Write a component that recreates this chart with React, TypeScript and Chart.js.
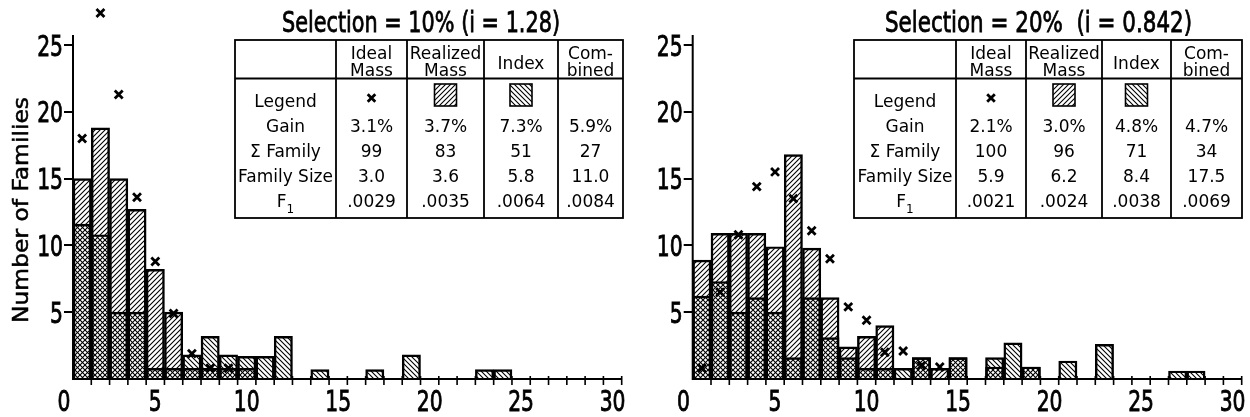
import React, { useEffect, useRef } from 'react';
import { Chart, registerables } from 'chart.js';

Chart.register(...registerables);

// ---------- data ----------
const bins = [1, 2, 3, 4, 5, 6, 7, 8, 9, 10, 11, 12, 13, 14, 15, 16, 17, 18, 19, 20, 21, 22, 23, 24, 25, 26, 27, 28, 29, 30];
const xTickLabels = [0, 5, 10, 15, 20, 25, 30];
const yAxisTop = 25.75;

// Selection = 10 %
const realized10 = [15.0, 18.8, 15.0, 12.7, 8.2, 5.0, 0.8, 0.8, 0.8, 0.8, null, null, null, null, null, null, null, null, null, null, null, null, null, null, null, null, null, null, null, null];
const index10 = [11.6, 10.8, 5.0, 5.0, 0.8, 0.8, 1.8, 3.2, 1.8, 1.7, 1.7, 3.2, null, 0.7, null, null, 0.7, null, 1.8, null, null, null, 0.7, 0.7, null, null, null, null, null, null];
const ideal10 = [18.0, 27.4, 21.3, 13.6, 8.8, 4.9, 1.9, 0.8, 0.8];

// Selection = 20 %
const realized20 = [8.9, 10.9, 10.9, 10.9, 9.9, 16.8, 9.8, 6.1, 2.4, 3.2, 4.0, null, 1.6, 0.8, 1.6, null, 0.9, null, 0.9, null, null, null, null, null, null, null, null, null, null, null];
const index20 = [6.2, 7.3, 5.0, 6.1, 5.0, 1.6, 6.1, 3.1, 1.6, 0.8, 0.8, 0.8, 1.6, null, 1.6, null, 1.6, 2.7, 0.9, null, 1.35, null, 2.6, null, null, null, 0.6, 0.6, null, null];
const ideal20 = [0.8, 6.5, 10.8, 14.4, 15.5, 13.5, 11.1, 9.0, 5.4, 4.4, 2.0, 2.1, 1.0, 0.9];

// table
const tableHeaders = [['Ideal', 'Mass'], ['Realized', 'Mass'], ['Index'], ['Com-', 'bined']];
const rowLabels = ['Legend', 'Gain', 'Σ Family', 'Family Size', 'F'];
const gain10 = ['3.1%', '3.7%', '7.3%', '5.9%'];
const sumFamily10 = ['99', '83', '51', '27'];
const familySize10 = ['3.0', '3.6', '5.8', '11.0'];
const f1_10 = ['.0029', '.0035', '.0064', '.0084'];
const gain20 = ['2.1%', '3.0%', '4.8%', '4.7%'];
const sumFamily20 = ['100', '96', '71', '34'];
const familySize20 = ['5.9', '6.2', '8.4', '17.5'];
const f1_20 = ['.0021', '.0024', '.0038', '.0069'];

const SANS = "'DejaVu Sans', sans-serif";
const TABLE_FONT = `17px ${SANS}`;
const TICK_FONT = `29px ${SANS}`;
const TICK_SX = 0.7;

type Spec = {
  realized: (number | null)[];
  index: (number | null)[];
  ideal: number[];
  title: string;
  titleCx: number;
  titleW: number;
  colEdges: number[];
  yTitle: boolean;
  yAxisWidth: number;
  padRight: number;
  rows: string[][];
};

function makeHatch(ctx: CanvasRenderingContext2D, dir: number) {
  const s = 5;
  const c = document.createElement('canvas');
  c.width = s;
  c.height = s;
  const g = c.getContext('2d')!;
  g.strokeStyle = '#000';
  g.lineWidth = 1.1;
  g.beginPath();
  if (dir === 1) {
    g.moveTo(0, s); g.lineTo(s, 0);
    g.moveTo(-1, 1); g.lineTo(1, -1);
    g.moveTo(s - 1, s + 1); g.lineTo(s + 1, s - 1);
  } else {
    g.moveTo(0, 0); g.lineTo(s, s);
    g.moveTo(-1, s - 1); g.lineTo(1, s + 1);
    g.moveTo(s - 1, -1); g.lineTo(s + 1, 1);
  }
  g.stroke();
  return ctx.createPattern(c, 'repeat')!;
}

function fitText(ctx: CanvasRenderingContext2D, text: string, cx: number, baseline: number, font: string, width: number, heavy = 0) {
  ctx.save();
  ctx.font = font;
  const w = ctx.measureText(text).width;
  ctx.translate(cx, baseline);
  ctx.scale(width / w, 1);
  ctx.textAlign = 'center';
  ctx.textBaseline = 'alphabetic';
  ctx.fillStyle = '#000';
  ctx.fillText(text, 0, 0);
  if (heavy > 0) {
    ctx.strokeStyle = '#000';
    ctx.lineWidth = heavy;
    ctx.strokeText(text, 0, 0);
  }
  ctx.restore();
}

function scaledText(ctx: CanvasRenderingContext2D, text: string, x: number, baseline: number, align: CanvasTextAlign) {
  ctx.save();
  ctx.font = TICK_FONT;
  ctx.fillStyle = '#000';
  ctx.strokeStyle = '#000';
  ctx.lineWidth = 0.9;
  ctx.translate(x, baseline);
  ctx.scale(TICK_SX, 1);
  ctx.textAlign = align;
  ctx.textBaseline = 'alphabetic';
  ctx.fillText(text, 0, 0);
  ctx.strokeText(text, 0, 0);
  ctx.restore();
}

function crossMark(ctx: CanvasRenderingContext2D, x: number, y: number, r: number) {
  ctx.save();
  ctx.strokeStyle = '#000';
  ctx.lineWidth = 2.8;
  ctx.beginPath();
  ctx.moveTo(x - r, y - r); ctx.lineTo(x + r, y + r);
  ctx.moveTo(x - r, y + r); ctx.lineTo(x + r, y - r);
  ctx.stroke();
  ctx.restore();
}

function decorPlugin(s: Spec, fwd: CanvasPattern, back: CanvasPattern) {
  return {
    id: 'decor',
    afterDraw(chart: any) {
      const ctx: CanvasRenderingContext2D = chart.ctx;
      const xs = chart.scales.x;
      const ys = chart.scales.y;
      const area = chart.chartArea;
      const yb = ys.getPixelForValue(0);

      // y axis line (up to the axis top)
      ctx.save();
      ctx.strokeStyle = '#000';
      ctx.lineWidth = 2;
      ctx.beginPath();
      ctx.moveTo(area.left, yb + 1);
      ctx.lineTo(area.left, ys.getPixelForValue(yAxisTop));
      ctx.stroke();

      // ticks at bin edges on the x axis
      ctx.lineWidth = 1.6;
      ctx.beginPath();
      for (const b of bins) {
        const px = xs.getPixelForValue(b + 0.5);
        ctx.moveTo(px, yb - 3);
        ctx.lineTo(px, yb + 6);
      }
      ctx.stroke();
      ctx.restore();

      // tick labels
      for (const v of xTickLabels) {
        scaledText(ctx, String(v), xs.getPixelForValue(v), 411, 'center');
      }
      for (const t of ys.ticks) {
        if (t.value === 0) continue;
        scaledText(ctx, String(t.value), area.left - 10, ys.getPixelForValue(t.value) + 10.5, 'right');
      }

      // y title
      if (s.yTitle) {
        ctx.save();
        ctx.translate(28, 210);
        ctx.rotate(-Math.PI / 2);
        fitText(ctx, 'Number of Families', 0, 0, `21px ${SANS}`, 226, 0.5);
        ctx.restore();
      }

      // title
      fitText(ctx, s.title, s.titleCx, 32, `28px ${SANS}`, s.titleW, 0.8);

      // table
      const E = s.colEdges;
      const yT = 40, yH = 78.5, yB = 218;
      ctx.save();
      ctx.fillStyle = '#fff';
      ctx.fillRect(E[0], yT, E[5] - E[0], yB - yT);
      ctx.strokeStyle = '#000';
      ctx.lineWidth = 1.8;
      ctx.strokeRect(E[0], yT, E[5] - E[0], yB - yT);
      ctx.beginPath();
      ctx.moveTo(E[0], yH); ctx.lineTo(E[5], yH);
      for (let i = 1; i <= 4; i++) { ctx.moveTo(E[i], yT); ctx.lineTo(E[i], yB); }
      ctx.stroke();

      ctx.fillStyle = '#000';
      ctx.font = TABLE_FONT;
      ctx.textAlign = 'center';
      ctx.textBaseline = 'alphabetic';
      tableHeaders.forEach((h, i) => {
        const cx = (E[i + 1] + E[i + 2]) / 2;
        if (h.length === 2) {
          ctx.fillText(h[0], cx, 59);
          ctx.fillText(h[1], cx, 76);
        } else {
          ctx.fillText(h[0], cx, 69);
        }
      });
      const baselines = [106.5, 131.5, 156.5, 181.5, 206.5];
      const c0 = (E[0] + E[1]) / 2;
      rowLabels.forEach((lab, r) => {
        if (r === 4) {
          ctx.font = TABLE_FONT;
          const wF = ctx.measureText('F').width;
          ctx.font = `12px ${SANS}`;
          const w1 = ctx.measureText('1').width;
          const x0 = c0 - (wF + w1) / 2;
          ctx.textAlign = 'left';
          ctx.font = TABLE_FONT;
          ctx.fillText(lab, x0, baselines[r]);
          ctx.font = `12px ${SANS}`;
          ctx.fillText('1', x0 + wF, baselines[r] + 6);
          ctx.textAlign = 'center';
          ctx.font = TABLE_FONT;
        } else {
          ctx.fillText(lab, c0, baselines[r]);
        }
      });
      // legend row
      const cc = (i: number) => (E[i] + E[i + 1]) / 2;
      crossMark(ctx, cc(1), 98, 3.8);
      const sq = 22;
      [[2, fwd], [3, back]].forEach(([i, pat]: any) => {
        const x = cc(i) - sq / 2;
        ctx.fillStyle = pat;
        ctx.fillRect(x, 84, sq, sq);
        ctx.strokeStyle = '#000';
        ctx.lineWidth = 1.6;
        ctx.strokeRect(x, 84, sq, sq);
      });
      ctx.fillStyle = '#000';
      s.rows.forEach((vals, r) => {
        vals.forEach((v, i) => ctx.fillText(v, cc(i + 1), baselines[r + 1]));
      });
      ctx.restore();
    },
  };
}

function makeChart(canvas: HTMLCanvasElement, s: Spec) {
  const ctx = canvas.getContext('2d')!;
  const fwd = makeHatch(ctx, 1);
  const back = makeHatch(ctx, -1);
  const barBase = {
    type: 'bar' as const,
    borderColor: '#000',
    borderWidth: 1.8,
    grouped: false,
    barPercentage: 1,
    categoryPercentage: 1,
  };
  return new Chart(ctx, {
    type: 'bar',
    data: {
      datasets: [
        {
          type: 'scatter',
          label: 'Ideal Mass',
          data: s.ideal.map((v, i) => ({ x: bins[i], y: v })),
          pointStyle: 'crossRot',
          pointRadius: 5.6,
          pointBorderWidth: 2.8,
          borderColor: '#000',
          backgroundColor: '#000',
          clip: false,
          order: 0,
        } as any,
        {
          ...barBase,
          label: 'Index',
          data: bins.map((b, i) => ({ x: b, y: s.index[i] })),
          backgroundColor: back,
          order: 1,
        } as any,
        {
          ...barBase,
          label: 'Realized Mass',
          data: bins.map((b, i) => ({ x: b, y: s.realized[i] })),
          backgroundColor: fwd,
          order: 2,
        } as any,
      ],
    },
    options: {
      responsive: false,
      animation: false,
      events: [],
      layout: { autoPadding: false, padding: { left: 0, top: 1, right: s.padRight, bottom: 0 } },
      plugins: { legend: { display: false }, tooltip: { enabled: false } },
      scales: {
        x: {
          type: 'linear',
          min: 0.5,
          max: 30.5,
          offset: false,
          afterBuildTicks: (ax: any) => {
            ax.ticks = xTickLabels.map((v) => ({ value: v }));
          },
          afterFit: (ax: any) => {
            ax.height = 38;
            ax.paddingLeft = 0;
            ax.paddingRight = 0;
          },
          ticks: { display: false, autoSkip: false, maxRotation: 0 },
          grid: { display: false, drawTicks: false, offset: false },
          border: { display: true, color: '#000', width: 2 },
        },
        y: {
          min: 0,
          max: 378 / 13.36,
          afterFit: (ax: any) => {
            ax.width = s.yAxisWidth;
            ax.paddingTop = 0;
            ax.paddingBottom = 0;
          },
          ticks: { display: false, stepSize: 5, includeBounds: false },
          grid: {
            drawOnChartArea: false,
            drawTicks: true,
            tickLength: 9,
            lineWidth: 2,
            color: (c: any) => (c.tick && c.tick.value === 0 ? 'rgba(0,0,0,0)' : '#000'),
          },
          border: { display: false },
        },
      },
    } as any,
    plugins: [decorPlugin(s, fwd, back)],
  });
}

const leftSpec: Spec = {
  realized: realized10,
  index: index10,
  ideal: ideal10,
  title: 'Selection = 10% (i = 1.28)',
  titleCx: 421,
  titleW: 278,
  colEdges: [235, 336, 407, 484, 558, 623],
  yTitle: true,
  yAxisWidth: 73,
  padRight: 6.3,
  rows: [gain10, sumFamily10, familySize10, f1_10],
};

const rightSpec: Spec = {
  realized: realized20,
  index: index20,
  ideal: ideal20,
  title: 'Selection = 20%  (i = 0.842)',
  titleCx: 410.5,
  titleW: 307,
  colEdges: [226, 328, 398, 474, 543, 614],
  yTitle: false,
  yAxisWidth: 64.7,
  padRight: 8.3,
  rows: [gain20, sumFamily20, familySize20, f1_20],
};

export default function App() {
  const leftRef = useRef<HTMLCanvasElement>(null);
  const rightRef = useRef<HTMLCanvasElement>(null);
  useEffect(() => {
    const charts = [makeChart(leftRef.current!, leftSpec), makeChart(rightRef.current!, rightSpec)];
    return () => charts.forEach((c) => c.destroy());
  }, []);
  return (
    <div style={{ position: 'fixed', left: 0, top: 0, width: 1250, height: 417, background: '#fff' }}>
      <canvas ref={leftRef} width={628} height={417} style={{ position: 'absolute', left: 0, top: 0, width: 628, height: 417 }} />
      <canvas ref={rightRef} width={622} height={417} style={{ position: 'absolute', left: 628, top: 0, width: 622, height: 417 }} />
    </div>
  );
}
